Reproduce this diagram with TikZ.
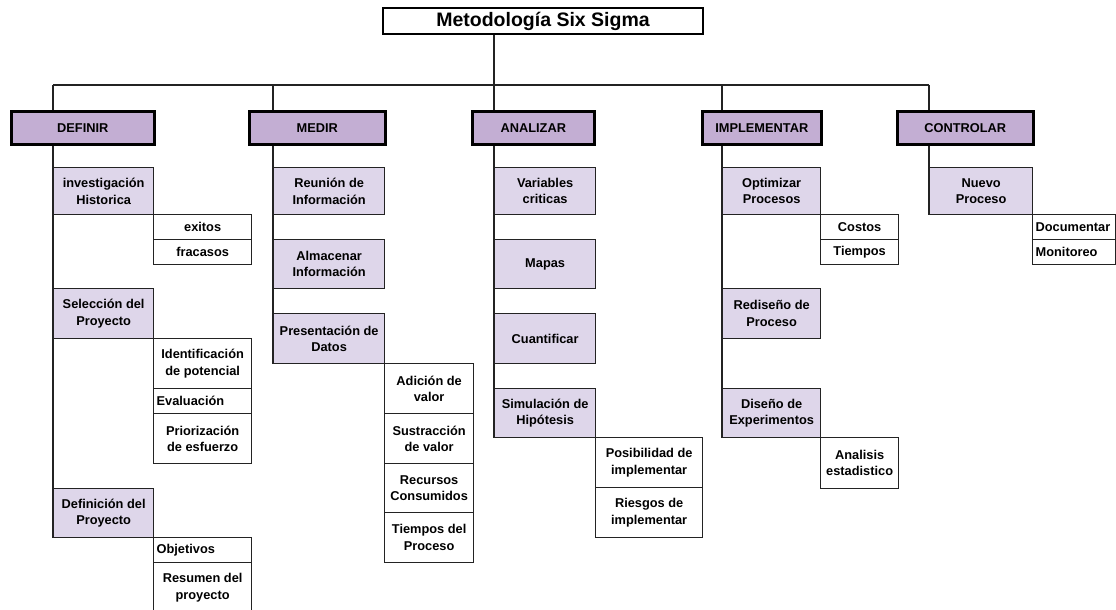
\documentclass[tikz,border=0pt]{standalone}
\usepackage{fontspec}
\setmainfont{Liberation Sans}
\usepackage{tikz}
\usetikzlibrary{calc}
\definecolor{colfase}{RGB}{195,174,211}
\definecolor{colpaso}{RGB}{222,214,234}
\definecolor{linea}{RGB}{35,35,35}
\tikzstyle{titulo}=[draw, line width=2pt, fill=white, minimum width=320, minimum height=26, inner sep=0pt, font=\fontsize{19.5}{22}\selectfont\bfseries]
\tikzstyle{fase}=[draw, line width=2.6pt, fill=colfase, minimum height=33, inner sep=0pt, anchor=north west, font=\fontsize{12.8}{16}\selectfont\bfseries]
\tikzstyle{paso}=[draw=linea, line width=1.3pt, fill=colpaso, inner sep=0pt, anchor=north west, align=center, font=\fontsize{12.8}{16.5}\selectfont\bfseries]
\tikzstyle{detalle}=[draw=linea, line width=1.3pt, fill=white, inner sep=0pt, anchor=north west, align=center, font=\fontsize{12.8}{16.5}\selectfont\bfseries]
\tikzstyle{izq}=[align=left, inner xsep=3pt]
\tikzstyle{conector}=[draw=linea, line width=1.4pt]

\begin{document}
\begin{tikzpicture}[x=1pt,y=-1pt]
\useasboundingbox (0,0) rectangle (1116,610);

\node[titulo] (title) at (543,21) {Metodología Six Sigma};
\coordinate (bus) at (0,85);

% fases
\node[fase, minimum width=143] (hdef) at (10,110) {DEFINIR};
\node[fase, minimum width=136] (hmed) at (248,110) {MEDIR};
\node[fase, minimum width=122] (hana) at (471,110) {ANALIZAR};
\node[fase, minimum width=119] (himp) at (701,110) {IMPLEMENTAR};
\node[fase, minimum width=136] (hcon) at (896,110) {CONTROLAR};

% definir
\node[paso, minimum width=100, minimum height=47] (d1) at (53,167) {investigación\\Historica};
\node[detalle, minimum width=98, minimum height=25] (d1a) at (153,214) {exitos};
\node[detalle, minimum width=98, minimum height=25] (d1b) at (153,239) {fracasos};
\node[paso, minimum width=100, minimum height=50] (d2) at (53,288) {Selección del\\Proyecto};
\node[detalle, minimum width=98, minimum height=50] (d2a) at (153,338) {Identificación\\de potencial};
\node[detalle, izq, text width=92, minimum height=25] (d2b) at (153,388) {Evaluación};
\node[detalle, minimum width=98, minimum height=50] (d2c) at (153,413) {Priorización\\de esfuerzo};
\node[paso, minimum width=100, minimum height=49] (d3) at (53,488) {Definición del\\Proyecto};
\node[detalle, izq, text width=92, minimum height=25] (d3a) at (153,537) {Objetivos};
\node[detalle, minimum width=98, minimum height=50] (d3b) at (153,562) {Resumen del\\proyecto};

% medir
\node[paso, minimum width=111, minimum height=47] (m1) at (273,167) {Reunión de\\Información};
\node[paso, minimum width=111, minimum height=49] (m2) at (273,239) {Almacenar\\Información};
\node[paso, minimum width=111, minimum height=50] (m3) at (273,313) {Presentación de\\Datos};
\node[detalle, minimum width=89, minimum height=50] (m3a) at (384,363) {Adición de\\valor};
\node[detalle, minimum width=89, minimum height=50] (m3b) at (384,413) {Sustracción\\de valor};
\node[detalle, minimum width=89, minimum height=49] (m3c) at (384,463) {Recursos\\Consumidos};
\node[detalle, minimum width=89, minimum height=50] (m3d) at (384,512) {Tiempos del\\Proceso};

% analizar
\node[paso, minimum width=101, minimum height=47] (a1) at (494,167) {Variables\\criticas};
\node[paso, minimum width=101, minimum height=49] (a2) at (494,239) {Mapas};
\node[paso, minimum width=101, minimum height=50] (a3) at (494,313) {Cuantificar};
\node[paso, minimum width=101, minimum height=49] (a4) at (494,388) {Simulación de\\Hipótesis};
\node[detalle, minimum width=107, minimum height=50] (a4a) at (595,437) {Posibilidad de\\implementar};
\node[detalle, minimum width=107, minimum height=50] (a4b) at (595,487) {Riesgos de\\implementar};

% implementar
\node[paso, minimum width=98, minimum height=47] (p1) at (722,167) {Optimizar\\Procesos};
\node[detalle, minimum width=78, minimum height=25] (p1a) at (820,214) {Costos};
\node[detalle, minimum width=78, minimum height=25] (p1b) at (820,239) {Tiempos};
\node[paso, minimum width=98, minimum height=50] (p2) at (722,288) {Rediseño de\\Proceso};
\node[paso, minimum width=98, minimum height=49] (p3) at (722,388) {Diseño de\\Experimentos};
\node[detalle, minimum width=78, minimum height=51] (p3a) at (820,437) {Analisis\\estadistico};

% controlar
\node[paso, minimum width=103, minimum height=47] (c1) at (929,167) {Nuevo\\Proceso};
\node[detalle, izq, text width=77, minimum height=25] (c1a) at (1032,214) {Documentar};
\node[detalle, izq, text width=77, minimum height=25] (c1b) at (1032,239) {Monitoreo};

\path[conector] (title.south -| a1.west) -- (a1.west |- bus);
\path[conector] (d1.west |- bus) -- (c1.west |- bus);
\foreach \h/\p/\u in {hdef/d1/d3, hmed/m1/m3, hana/a1/a4, himp/p1/p3, hcon/c1/c1}
{
  \path[conector] (\p.west |- bus) -- (\p.west |- \h.north);
  \path[conector] (\p.west |- \h.south) -- (\u.south west);
}
%\path[conector] (d1b.south west) -- (d2.north west);
\end{tikzpicture}
\end{document}
